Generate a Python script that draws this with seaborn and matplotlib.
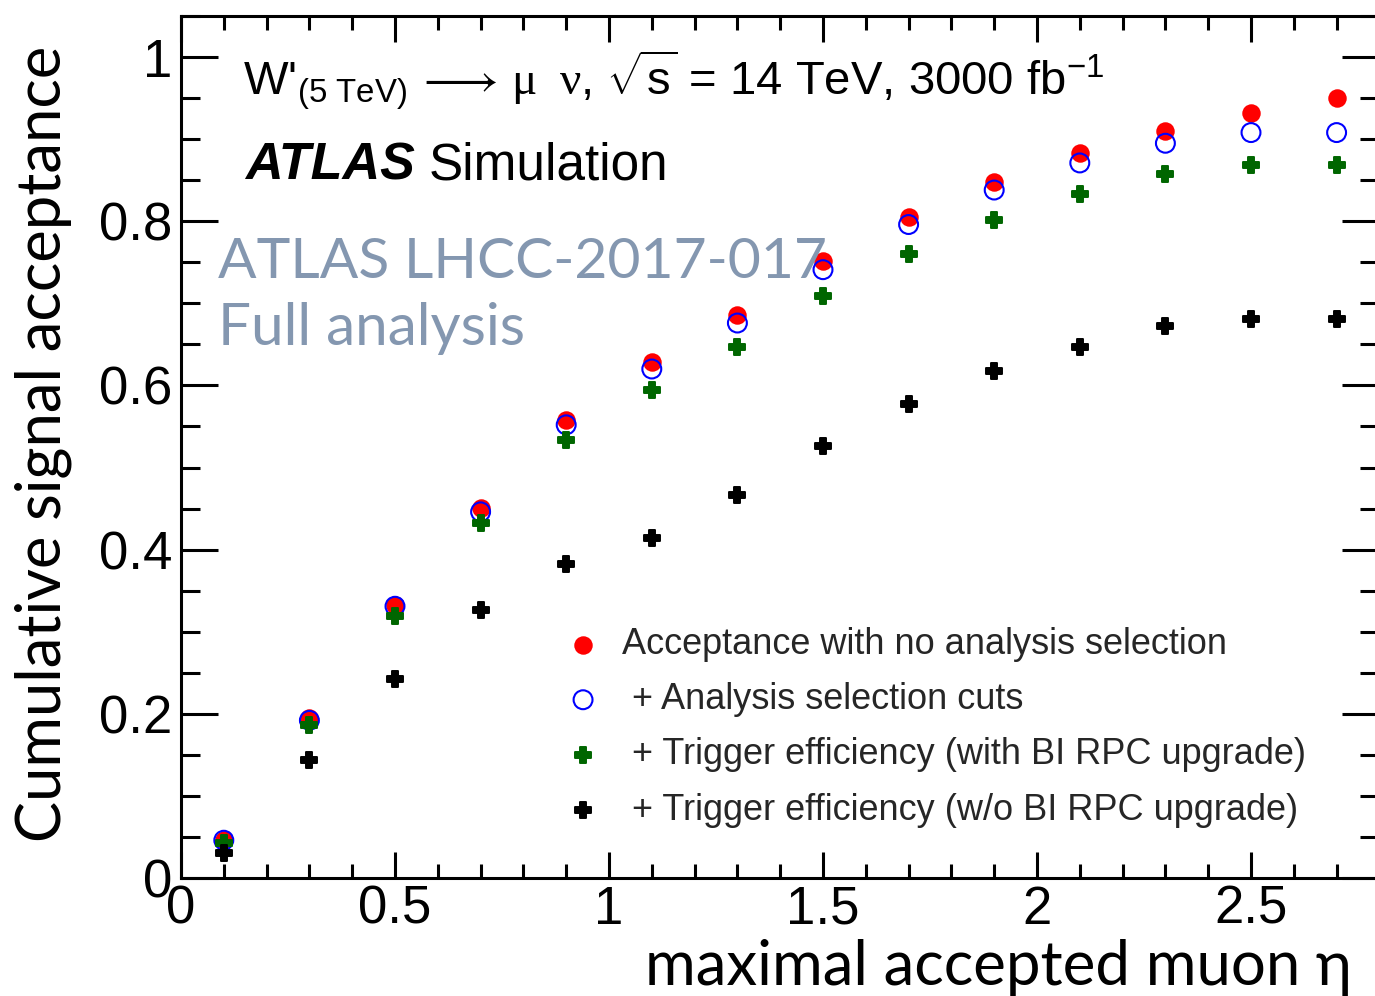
import numpy as np
import pandas as pd
import matplotlib
matplotlib.use("Agg")
import matplotlib.pyplot as plt
from matplotlib.ticker import MultipleLocator
import seaborn as sns

# Cumulative acceptance versus the maximal accepted muon |eta|
eta_max = [0.1, 0.3, 0.5, 0.7, 0.9, 1.1, 1.3, 1.5, 1.7, 1.9, 2.1, 2.3, 2.5, 2.7]
acc_no_selection = [0.046, 0.195, 0.333, 0.451, 0.558, 0.628, 0.686, 0.751,
                    0.805, 0.848, 0.883, 0.910, 0.932, 0.950]
acc_selection_cuts = [0.046, 0.192, 0.331, 0.446, 0.552, 0.620, 0.676, 0.741,
                      0.796, 0.838, 0.871, 0.895, 0.908, 0.908]
acc_trigger_bi_rpc = [0.043, 0.186, 0.319, 0.433, 0.534, 0.594, 0.647, 0.709,
                      0.760, 0.802, 0.833, 0.858, 0.869, 0.869]
acc_trigger_no_bi_rpc = [0.030, 0.144, 0.243, 0.327, 0.383, 0.414, 0.466, 0.526,
                         0.577, 0.617, 0.647, 0.672, 0.681, 0.681]

series_labels = [
    "Acceptance with no analysis selection",
    " + Analysis selection cuts",
    " + Trigger efficiency (with BI RPC upgrade)",
    " + Trigger efficiency (w/o BI RPC upgrade)",
]
x_ticks = [0, 0.5, 1, 1.5, 2, 2.5]
x_tick_labels = ["0", "0.5", "1", "1.5", "2", "2.5"]
y_ticks = [0, 0.2, 0.4, 0.6, 0.8, 1.0]
y_tick_labels = ["0", "0.2", "0.4", "0.6", "0.8", "1"]

df = pd.DataFrame({
    "eta": eta_max * 4,
    "acc": acc_no_selection + acc_selection_cuts + acc_trigger_bi_rpc + acc_trigger_no_bi_rpc,
    "series": np.repeat(series_labels, len(eta_max)),
})

sns.set_theme(style="ticks")
plt.rcParams["font.family"] = ["Liberation Sans", "DejaVu Sans"]
plt.rcParams["mathtext.fontset"] = "custom"
plt.rcParams["mathtext.rm"] = "Liberation Sans"
plt.rcParams["mathtext.it"] = "Liberation Sans:italic"
plt.rcParams["mathtext.sf"] = "Liberation Serif"
plt.rcParams["axes.linewidth"] = 2.2

W, H = 1375, 996
DPI = 100
fig = plt.figure(figsize=(W / DPI, H / DPI), dpi=DPI)
fig.patch.set_facecolor("white")

# frame in pixel units (right edge sits just past the canvas)
left_px, right_px, bottom_px, top_px = 181, 1379.4, 878, 16
ax = fig.add_axes([left_px / W, 1 - bottom_px / H,
                   (right_px - left_px) / W, (bottom_px - top_px) / H])
ax.set_facecolor("white")

styles = [
    dict(marker="o", s=177, color="#ff0000", linewidth=0),
    dict(marker="o", s=185, facecolor="none", edgecolor="#0000ff", linewidth=1.5),
    dict(marker="P", s=135, color="#006600", edgecolor="#006600", linewidth=1.4),
    dict(marker="P", s=135, color="#000000", edgecolor="#000000", linewidth=1.4),
]
for lab, st in zip(series_labels, styles):
    sub = df[df["series"] == lab]
    sns.scatterplot(data=sub, x="eta", y="acc", ax=ax, label=lab, zorder=3, **st)

ax.set_xlim(0, 2.8)
ax.set_ylim(0, 1.05)
ax.set_xticks(x_ticks)
ax.set_xticklabels(x_tick_labels)
ax.set_yticks(y_ticks)
ax.set_yticklabels(y_tick_labels)
ax.xaxis.set_minor_locator(MultipleLocator(0.1))
ax.yaxis.set_minor_locator(MultipleLocator(0.05))
ax.tick_params(axis="both", which="both", direction="in", top=True, right=True,
               width=2.2, color="black", labelcolor="black", labelsize=38)
ax.tick_params(axis="x", which="major", length=18.7, pad=5)
ax.tick_params(axis="x", which="minor", length=10)
ax.tick_params(axis="y", which="major", length=26.6, pad=6)
ax.tick_params(axis="y", which="minor", length=13.7)
for sp in ax.spines.values():
    sp.set_color("black")
    sp.set_linewidth(2.2)
ax.set_xlabel("")
ax.set_ylabel("")

# axis titles
label_font = ["Lato", "DejaVu Sans"]
fig.text(1352 / W, 1 - 985 / H, "maximal accepted muon η", ha="right", va="baseline",
         fontsize=44.5, family=label_font, color="black")
fig.text(43 / W, 1 - 444 / H, "Cumulative signal acceptance", ha="center", va="center",
         rotation=90, fontsize=44.3, family=label_font, color="black")

# process / luminosity header
fig.text(243 / W, 1 - 95 / H,
         r"W'$_{(5\ \mathrm{TeV})}$$\,\longrightarrow\,\mathsf{\mu\;\;\nu}$, $\sqrt{\mathrm{s}}$ = 14 TeV, 3000 fb$^{-1}$",
         ha="left", va="baseline", fontsize=34, color="black")

atlas = fig.text(245 / W, 1 - 180 / H, "ATLAS", ha="left", va="baseline",
                 fontsize=37.5, fontweight="bold", fontstyle="italic", color="black")
ax.annotate("Simulation", xy=(1, 0), xycoords=atlas, xytext=(10, 0),
            textcoords="offset points", ha="left", va="bottom",
            fontsize=37, color="black", annotation_clip=False)

note_color = "#8497b0"
fig.text(218 / W, 1 - 278 / H, "ATLAS LHCC-2017-017", ha="left", va="baseline",
         fontsize=41, family=label_font, color=note_color)
fig.text(218 / W, 1 - 345 / H, "Full analysis", ha="left", va="baseline",
         fontsize=42, family=label_font, color=note_color)

handles, labels = ax.get_legend_handles_labels()
ax.legend(handles, labels, loc="upper left",
          bbox_to_anchor=(565 / W, 1 - 627 / H), bbox_transform=fig.transFigure,
          frameon=False, fontsize=26, handlelength=1.0, handletextpad=0.58,
          labelspacing=0.56, borderpad=0, borderaxespad=0)

fig.savefig("out.png", dpi=DPI, facecolor="white")
